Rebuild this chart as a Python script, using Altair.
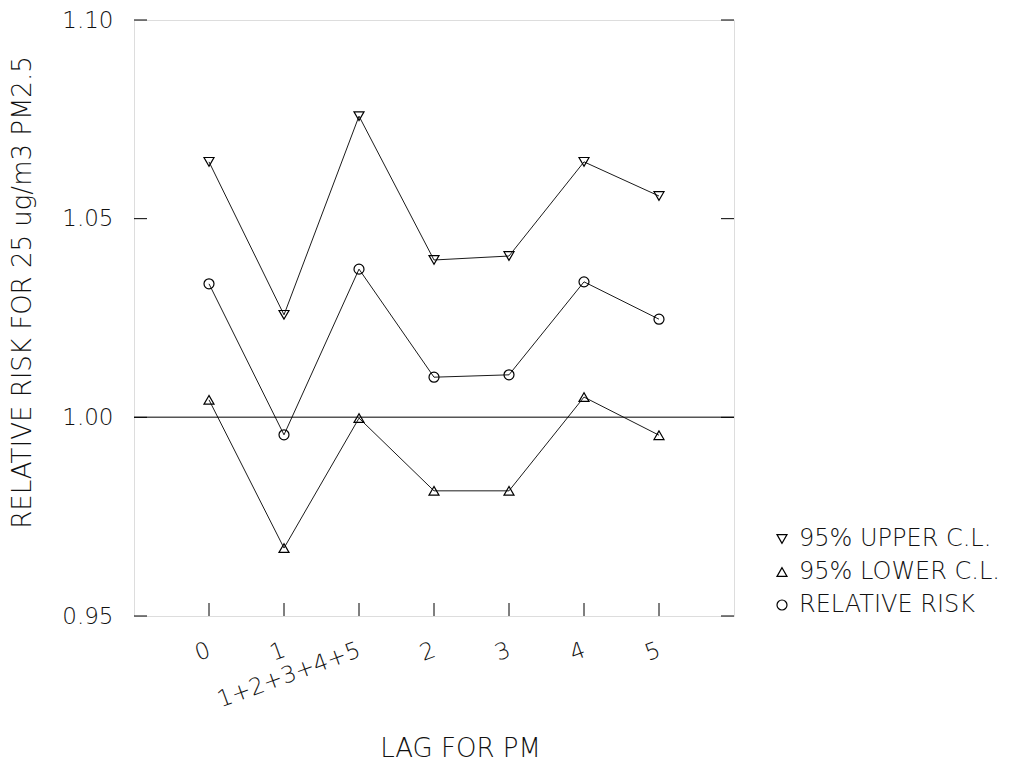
import altair as alt
import pandas as pd

LAGS = ["0", "1", "1+2+3+4+5", "2", "3", "4", "5"]
UPPER = [1.0643, 1.0258, 1.0758, 1.0396, 1.0406, 1.0643, 1.0557]
RR = [1.0336, 0.9956, 1.0373, 1.0101, 1.0107, 1.0341, 1.0247]
LOWER = [1.0044, 0.9671, 0.9998, 0.9815, 0.9815, 1.0051, 0.9955]
SERIES = ["95% UPPER C.L.", "95% LOWER C.L.", "RELATIVE RISK"]
SHAPES = ["triangle-down", "triangle-up", "circle"]
Y_TICKS = [0.95, 1.00, 1.05, 1.10]

rows = []
for name, vals in zip(SERIES, [UPPER, LOWER, RR]):
    for lag, v in zip(LAGS, vals):
        rows.append({"lag": lag, "series": name, "value": v})
df = pd.DataFrame(rows)

FONT = "DejaVu Sans"
WEIGHT = 200
TXT = "#111"
W, H = 600, 596

xenc = alt.X(
    "lag:O",
    sort=LAGS,
    scale=alt.Scale(type="point", padding=1),
    axis=alt.Axis(
        title="LAG FOR PM",
        ticks=False,
        domain=False,
        labelAngle=340,
        labelAlign="right",
        labelBaseline="middle",
        labelPadding=33,
        labelFontSize=23,
        labelFont=FONT,
        labelFontWeight=WEIGHT,
        labelColor=TXT,
        titleFont=FONT,
        titleFontSize=26,
        titleFontWeight=WEIGHT,
        titleColor=TXT,
        titleX=326,
        titleY=132,
        titleAlign="center",
        titleBaseline="middle",
    ),
)
yscale = alt.Scale(domain=[0.95, 1.10], nice=False, zero=False)
yenc = alt.Y(
    "value:Q",
    scale=yscale,
    axis=alt.Axis(
        title="RELATIVE RISK FOR 25 ug/m3 PM2.5",
        values=Y_TICKS,
        format=".2f",
        ticks=False,
        domain=False,
        grid=False,
        labelPadding=21,
        labelFontSize=23,
        labelFont=FONT,
        labelFontWeight=WEIGHT,
        labelColor=TXT,
        titleFont=FONT,
        titleFontSize=26,
        titleFontWeight=WEIGHT,
        titleColor=TXT,
        titleAngle=270,
        titleX=-112,
        titleY=272,
        titleAlign="center",
        titleBaseline="middle",
        titleLimit=700,
    ),
)

lines = alt.Chart(df).mark_line(color="black", strokeWidth=0.9).encode(
    x=xenc, y=yenc, detail="series:N"
)
points = alt.Chart(df).mark_point(filled=False, color="black", size=100, strokeWidth=1.2, opacity=1).encode(
    x=xenc,
    y=yenc,
    shape=alt.Shape(
        "series:N",
        scale=alt.Scale(domain=SERIES, range=SHAPES),
        legend=alt.Legend(
            title=None,
            orient="none",
            legendX=636,
            legendY=507,
            labelFont=FONT,
            labelFontSize=24,
            labelFontWeight=WEIGHT,
            labelColor=TXT,
            labelLimit=400,
            symbolSize=100,
            symbolStrokeColor="black",
            symbolFillColor="white",
            symbolStrokeWidth=1.2,
            rowPadding=9,
            labelOffset=5,
        ),
    ),
)

ref = alt.Chart(pd.DataFrame({"v": [1.0]})).mark_rule(color="#555", strokeWidth=1.5).encode(
    y=alt.Y("v:Q", scale=yscale)
)

ytick_df = pd.DataFrame({"v": Y_TICKS})
ytl = alt.Chart(ytick_df).mark_rule(color="black").encode(
    y=alt.Y("v:Q", scale=yscale), x=alt.value(0), x2=alt.value(13)
)
ytr = alt.Chart(ytick_df).mark_rule(color="black").encode(
    y=alt.Y("v:Q", scale=yscale), x=alt.value(W - 13), x2=alt.value(W)
)
xt = alt.Chart(pd.DataFrame({"lag": LAGS})).mark_rule(color="black").encode(
    x=alt.X("lag:O", sort=LAGS, scale=alt.Scale(type="point", padding=1)),
    y=alt.value(H - 13),
    y2=alt.value(H),
)

chart = (
    alt.layer(ref, ytl, ytr, xt, lines, points)
    .properties(
        width=W,
        height=H,
        autosize=alt.AutoSizeParams(type="none"),
        padding={"left": 134, "top": 20, "right": 292, "bottom": 145},
    )
    .configure_view(stroke="black", strokeWidth=1)
    .configure(background="white")
)

chart.save("out.html", embed_options={"renderer": "svg", "actions": False})
